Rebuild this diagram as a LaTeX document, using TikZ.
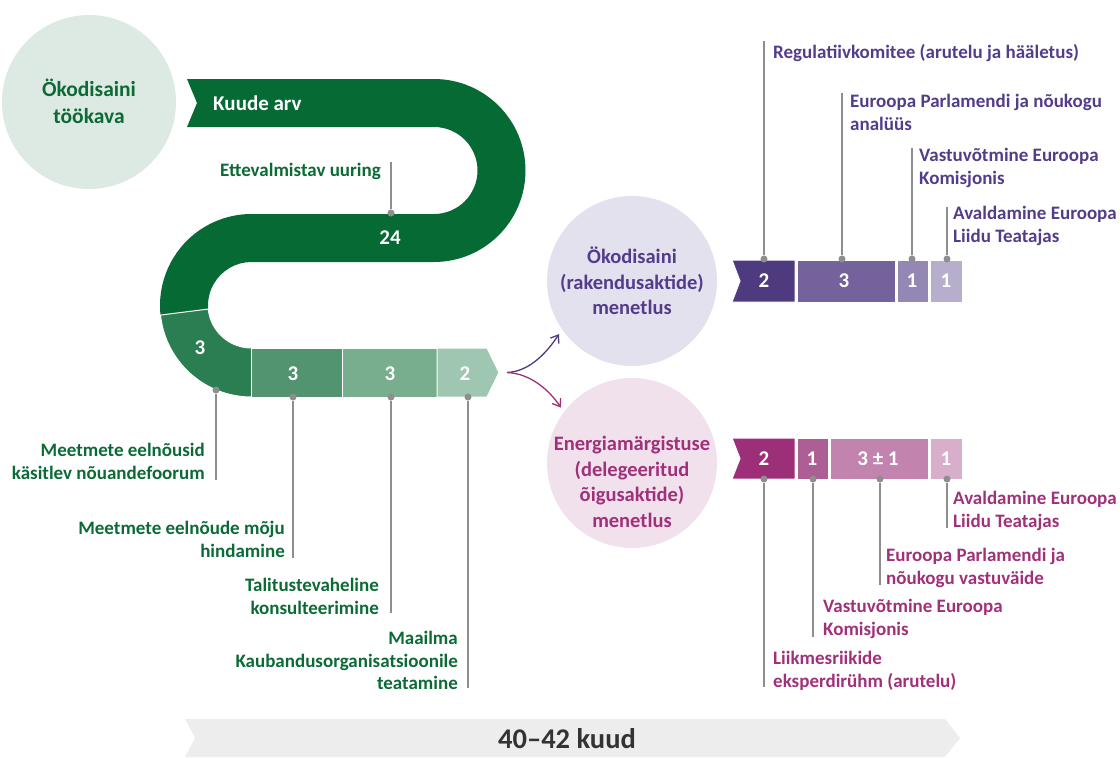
\documentclass[tikz,border=0pt]{standalone}
\usepackage{fontspec}
\setmainfont{Carlito}
\usetikzlibrary{arrows.meta,positioning,calc}
\definecolor{ecoDark}{HTML}{066A35}
\definecolor{ecoA}{HTML}{2B7D52}
\definecolor{ecoB}{HTML}{52946F}
\definecolor{ecoC}{HTML}{78AE8E}
\definecolor{ecoD}{HTML}{9FC6B0}
\definecolor{ecoCirc}{HTML}{DDE9E3}
\definecolor{ecoText}{HTML}{0B6A36}
\definecolor{impA}{HTML}{4E3A7F}
\definecolor{impB}{HTML}{73629B}
\definecolor{impC}{HTML}{9487B3}
\definecolor{impD}{HTML}{B7AECD}
\definecolor{impText}{HTML}{533C8A}
\definecolor{impCirc}{HTML}{E4E1EE}
\definecolor{delA}{HTML}{9C2F77}
\definecolor{delB}{HTML}{AD5E94}
\definecolor{delC}{HTML}{C283AE}
\definecolor{delD}{HTML}{D8AECA}
\definecolor{delText}{HTML}{A0307A}
\definecolor{delCirc}{HTML}{F0E1EC}
\definecolor{leader}{HTML}{8E8E8E}
\definecolor{band}{HTML}{EDEDED}
\definecolor{bandText}{HTML}{333333}
\tikzset{
    seg/.style={draw=white, line width=1pt},
    num/.style={text=white, inner sep=0pt, font=\fontsize{21}{24}\selectfont\bfseries},
    lbl/.style={inner sep=0pt, font=\fontsize{19}{22.5}\selectfont\bfseries},
    circtxt/.style={align=center, inner sep=0pt, font=\fontsize{20.5}{25.5}\selectfont\bfseries},
    lead/.style={draw=leader, line width=1.5pt},
    dot/.style={circle, fill=leader, inner sep=0pt, minimum size=7pt},
    fork/.style={line width=1.3pt, -{Straight Barb[length=7pt,width=10pt,line width=1.3pt]}}
}
\begin{document}
\begin{tikzpicture}[x=1pt,y=-1pt]
    \useasboundingbox (0,0) rectangle (1120,758);
    \def \ro {91.5}
    \def \ri {43.5}
    \coordinate (cr) at (434,170.5);
    \coordinate (cl) at (251.5,305.5);
    % circle
    \node[circle, fill=ecoCirc, minimum size=174pt, inner sep=0pt] (ecoC) at (89,102) {};
    \node[circtxt, text=ecoText, font=\fontsize{21.5}{27}\selectfont\bfseries] (ecoT) at (89,101) {Ökodisaini\\töökava};
    % snake
    \fill[ecoDark] (187,79) -- (434,79) arc (-90:90:\ro) -- (251.5,262) arc (270:174:\ri)
        -- ($(cl)+(174:\ro)$) arc (174:270:\ro) -- (434,214) arc (90:-90:\ri) -- (187,127) -- (197,103) -- cycle;
    \path[fill=ecoA, seg] ($(cl)+(174:\ro)$) arc (174:90:\ro) -- (251.5,348) arc (90:174:\ri) -- cycle;
    \path[fill=ecoB, seg] (251.5,348) rectangle (342,397);
    \path[fill=ecoC, seg] (342,348) rectangle (437,397);
    \path[fill=ecoD, seg] (437,348) -- (487,348) -- (499,372.5) -- (487,397) -- (437,397) -- cycle;
    \node[num, anchor=west] (kuude) at (213,103) {Kuude arv};
    \node[num] (n24) at (390,238) {24};
    \node[num] (g1) at (200,348) {3};
    \node[num] (g2) at (293,374) {3};
    \node[num] (g3) at (390,374) {3};
    \node[num] (g4) at (465,374) {2};
    % green leaders
    \coordinate (ge0) at (391,162);
    \node[dot] (gd0) at (391,213) {};
    \draw[lead] (gd0) -- (ge0);
    \foreach \n/\x/\y/\e in {1/216/390/480, 2/293/397/558, 3/391/397/613, 4/468/397/688}{
        \coordinate (ge\n) at (\x,\e);
        \node[dot] (gd\n) at (\x,\y) {};
        \draw[lead] (gd\n) -- (ge\n);
    }
    \node[lbl, text=ecoText, anchor=north east] (l0) at (381,163) {Ettevalmistav uuring};
    \node[lbl, text=ecoText, anchor=north east, align=right] (l1) at (205,443) {Meetmete eelnõusid\\käsitlev nõuandefoorum};
    \node[lbl, text=ecoText, anchor=north east, align=right] (l2) at (285,521) {Meetmete eelnõude mõju\\hindamine};
    \node[lbl, text=ecoText, anchor=north east, align=right] (l3) at (379,578) {Talitustevaheline\\konsulteerimine};
    \node[lbl, text=ecoText, anchor=north east, align=right] (l4) at (458,631) {Maailma\\Kaubandusorganisatsioonile\\teatamine};
    % procedures
    \node[circle, fill=impCirc, minimum size=170pt, inner sep=0pt] (impC) at (632,281) {};
    \node[circtxt, text=impText] (impT) at (632,281) {Ökodisaini\\(rakendusaktide)\\menetlus};
    \node[circle, fill=delCirc, minimum size=170pt, inner sep=0pt] (delC) at (632,463) {};
    \node[circtxt, text=delText] (delT) at (632,482) {Energiamärgistuse\\(delegeeritud\\õigusaktide)\\menetlus};
    \coordinate (split) at (507,372.5);
    \draw[fork, impA] (split) .. controls +(23,-1) and +(-12,18) .. ([shift={(-4,3)}]impC.216);
    \draw[fork, delA] (split) .. controls +(23,1) and +(-12,-18) .. ([shift={(-4,-3)}]delC.142);
    % top bar
    \path[fill=impA, seg] (732,260) -- (795,260) -- (795,302) -- (732,302) -- (740,281) -- cycle;
    \path[fill=impB, seg] (797,260) rectangle (895,302);
    \path[fill=impC, seg] (897,260) rectangle (928,302);
    \path[fill=impD, seg] (930,260) rectangle (962,302);
    \node[num] (i1) at (764,281) {2};
    \node[num] (i2) at (844,281) {3};
    \node[num] (i3) at (912,281) {1};
    \node[num] (i4) at (946,281) {1};
    \foreach \n/\x/\e in {1/764/41, 2/842/93, 3/912/148, 4/947/207}{
        \coordinate (ie\n) at (\x,\e);
        \node[dot] (id\n) at (\x,259) {};
        \draw[lead] (id\n) -- (ie\n);
    }
    \node[lbl, text=impText, anchor=north west, align=left] (p1) at (773,44) {Regulatiivkomitee (arutelu ja hääletus)};
    \node[lbl, text=impText, anchor=north west, align=left] (p2) at (850,94) {Euroopa Parlamendi ja nõukogu\\analüüs};
    \node[lbl, text=impText, anchor=north west, align=left] (p3) at (919,148) {Vastuvõtmine Euroopa\\Komisjonis};
    \node[lbl, text=impText, anchor=north west, align=left] (p4) at (953,206) {Avaldamine Euroopa\\Liidu Teatajas};
    % bottom bar
    \path[fill=delA, seg] (732,438) -- (795,438) -- (795,479) -- (732,479) -- (740,458.5) -- cycle;
    \path[fill=delB, seg] (797,438) rectangle (828,479);
    \path[fill=delC, seg] (830,438) rectangle (928,479);
    \path[fill=delD, seg] (930,438) rectangle (962,479);
    \node[num] (d1) at (764,459) {2};
    \node[num] (d2) at (812,459) {1};
    \node[num] (d3) at (878,459) {3 ± 1};
    \node[num] (d4) at (946,459) {1};
    \foreach \n/\x/\e in {1/764/687, 2/813/637, 3/880/585, 4/947/528}{
        \coordinate (de\n) at (\x,\e);
        \node[dot] (dd\n) at (\x,479) {};
        \draw[lead] (dd\n) -- (de\n);
    }
    \node[lbl, text=delText, anchor=north west, align=left] (q4) at (953,491) {Avaldamine Euroopa\\Liidu Teatajas};
    \node[lbl, text=delText, anchor=north west, align=left] (q3) at (886,548) {Euroopa Parlamendi ja\\nõukogu vastuväide};
    \node[lbl, text=delText, anchor=north west, align=left] (q2) at (823,599) {Vastuvõtmine Euroopa\\Komisjonis};
    \node[lbl, text=delText, anchor=north west, align=left] (q1) at (773,651) {Liikmesriikide\\eksperdirühm (arutelu)};
    % total
    \fill[band] (185,719) -- (945,719) -- (960,738) -- (945,757) -- (185,757) -- (195,738) -- cycle;
    \node[text=bandText, inner sep=0pt, font=\fontsize{28.5}{30}\selectfont\bfseries] (total) at (567,739) {40–42 kuud};
\end{tikzpicture}
\end{document}
